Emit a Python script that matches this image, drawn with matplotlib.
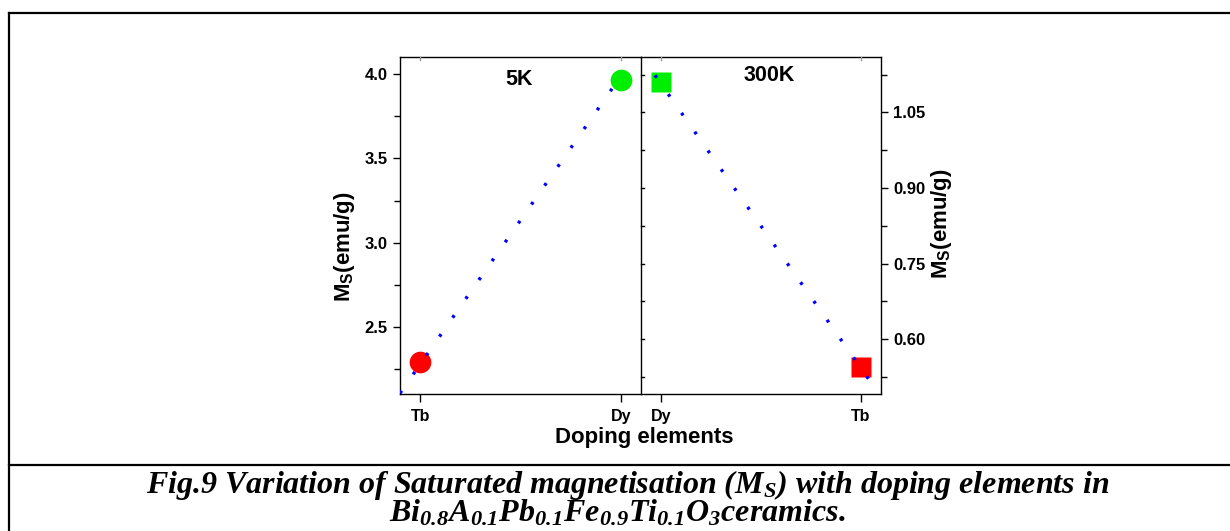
import matplotlib
matplotlib.use("Agg")
import matplotlib.pyplot as plt
import numpy as np
from matplotlib.lines import Line2D
from matplotlib.ticker import FixedLocator

plt.rcParams['font.family'] = ['Liberation Sans', 'DejaVu Sans']
plt.rcParams['font.weight'] = 'bold'
plt.rcParams['mathtext.fontset'] = 'custom'
plt.rcParams['mathtext.rm'] = 'Liberation Serif:italic:bold'
plt.rcParams['mathtext.it'] = 'Liberation Serif:italic:bold'
plt.rcParams['mathtext.bf'] = 'Liberation Serif:italic:bold'
plt.rcParams['mathtext.sf'] = 'Liberation Sans:bold'

# Data
# 5K panel
elements_5k = ['Tb', 'Dy']
ms_5k = [2.288, 3.969]
fit_5k = [2.276, 3.99]        # dotted trend line at Tb, Dy
fit_span_5k = [0.9, 2.0]

# 300K panel
elements_300k = ['Dy', 'Tb']
ms_300k = [1.111, 0.546]
fit_300k = [1.1065, 0.5427]   # dotted trend line at Dy, Tb
fit_span_300k = [0.97, 2.1]

W, H = 1230, 531
fig = plt.figure(figsize=(W / 100, H / 100), dpi=100)

def px_box(x0, y0, x1, y1):
    return [x0 / W, 1 - y1 / H, (x1 - x0) / W, (y1 - y0) / H]

ax1 = fig.add_axes(px_box(400, 57, 641, 394))
ax2 = fig.add_axes(px_box(641, 57, 881, 394))

pos = np.arange(1, 3)


def trend(ax, fit, span):
    k, b = np.polyfit(pos, fit, 1)
    xs = np.array(span)
    ax.plot(xs, k * xs + b, color='#0000FF', lw=2.4, dashes=(0.9, 6.0), zorder=5)


# left panel (5K)
ax1.plot(pos[0], ms_5k[0], 'o', color='#FF0000', ms=15.6, mec='none', zorder=3)
ax1.plot(pos[1], ms_5k[1], 'o', color='#00EE00', ms=15.6, mec='none', zorder=3)
trend(ax1, fit_5k, fit_span_5k)
ax1.set_xlim(0.9, 2.1)
ax1.set_ylim(2.1, 4.103)
ax1.set_xticks(pos)
ax1.set_xticklabels(elements_5k)
ax1.yaxis.set_major_locator(FixedLocator([2.5, 3.0, 3.5, 4.0]))
ax1.yaxis.set_minor_locator(FixedLocator([2.25, 2.75, 3.25, 3.75]))
ax1.set_yticklabels(['2.5', '3.0', '3.5', '4.0'])
ax1.tick_params(axis='y', which='major', direction='out', length=5, width=1, labelsize=12, pad=4)
ax1.tick_params(axis='y', which='minor', direction='out', length=4, width=1)
ax1.tick_params(axis='x', which='major', direction='out', length=6, width=1, labelsize=11.5, pad=5)
ax1.spines['right'].set_visible(False)
ax1.text(0.496, 0.933, '5K', transform=ax1.transAxes, ha='center', va='center',
         fontsize=15.5, fontweight='bold')
ax1.text(-0.232, 0.437, r'M$_{\mathsf{S}}$(emu/g)', transform=ax1.transAxes, rotation=90,
         ha='center', va='center', fontsize=16, fontweight='bold')

# right panel (300K)
ax2.plot(pos[0], ms_300k[0], 's', color='#00EE00', ms=13.7, mec='none', zorder=3)
ax2.plot(pos[1], ms_300k[1], 's', color='#FF0000', ms=13.7, mec='none', zorder=3)
trend(ax2, fit_300k, fit_span_300k)
ax2.set_xlim(0.9, 2.1)
ax2.set_ylim(0.4915, 1.1597)
ax2.set_xticks(pos)
ax2.set_xticklabels(elements_300k)
ax2.yaxis.tick_right()
ax2.yaxis.set_major_locator(FixedLocator([0.60, 0.75, 0.90, 1.05]))
ax2.yaxis.set_minor_locator(FixedLocator([0.525, 0.675, 0.825, 0.975, 1.125]))
ax2.set_yticklabels(['0.60', '0.75', '0.90', '1.05'])
ax2.tick_params(axis='y', which='major', direction='out', length=5, width=1, labelsize=12, pad=4)
ax2.tick_params(axis='y', which='minor', direction='out', length=4, width=1)
ax2.tick_params(axis='x', which='major', direction='out', length=6, width=1, labelsize=11.5, pad=5)
ax2.text(0.5325, 0.944, '300K', transform=ax2.transAxes, ha='center', va='center',
         fontsize=15.5, fontweight='bold')
ax2.text(1.25, 0.505, r'M$_{\mathsf{S}}$(emu/g)', transform=ax2.transAxes, rotation=90,
         ha='center', va='center', fontsize=16, fontweight='bold')

# inward ticks on the shared middle line and faint top ticks
for y in [0.525, 0.60, 0.675, 0.75, 0.825, 0.90, 0.975, 1.05, 1.125]:
    ax2.plot([0.9, 0.915], [y, y], color='black', lw=1, clip_on=False, zorder=6)
for ax in (ax1, ax2):
    top = ax.get_ylim()[1]
    span = top - ax.get_ylim()[0]
    for x in pos:
        ax.plot([x, x], [top, top - span * 0.01], color='#999999', lw=1, clip_on=False, zorder=6)
    for s in ax.spines.values():
        s.set_linewidth(1.0)

fig.text(644.5 / W, 1 - 443.3 / H, 'Doping elements', ha='center', va='baseline',
         fontsize=16, fontweight='bold')

# frame around figure and caption
def hline(x0, x1, y):
    fig.add_artist(Line2D([x0 / W, x1 / W], [1 - y / H, 1 - y / H], color='black', lw=1.6,
                          transform=fig.transFigure))

def vline(x, y0, y1):
    fig.add_artist(Line2D([x / W, x / W], [1 - y0 / H, 1 - y1 / H], color='black', lw=1.6,
                          transform=fig.transFigure))

hline(8.5, W, 12.5)
hline(8.5, W, 464.7)
vline(9, 12.5, H)

cap_kw = dict(ha='center', va='baseline', fontsize=23, family='Liberation Serif',
              fontweight='bold', fontstyle='italic')
fig.text(627.5 / W, 1 - 492.5 / H,
         r'Fig.9 Variation of Saturated magnetisation (M$_{\mathrm{S}}$) with doping elements in',
         **cap_kw)
fig.text(617 / W, 1 - 522 / H,
         r'Bi$_{0.8}$A$_{0.1}$Pb$_{0.1}$Fe$_{0.9}$Ti$_{0.1}$O$_{3}$ceramics.', **cap_kw)

fig.savefig('out.png', dpi=100)
